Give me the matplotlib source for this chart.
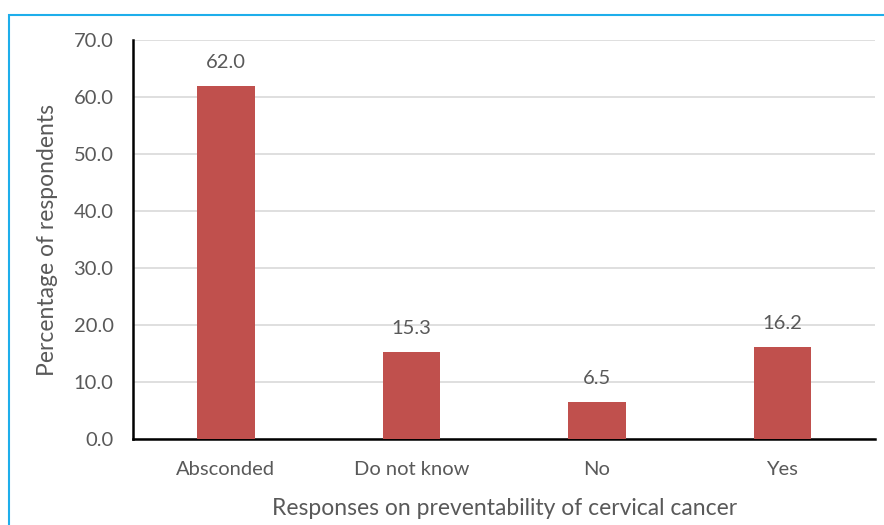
import matplotlib
matplotlib.use("Agg")
import matplotlib.pyplot as plt
from matplotlib.patches import Rectangle

# data
categories = ["Absconded", "Do not know", "No", "Yes"]
values = [62.0, 15.3, 6.5, 16.2]
yticks = [0, 10, 20, 30, 40, 50, 60, 70]

plt.rcParams['font.family'] = ['Lato', 'DejaVu Sans']
grey = '#595959'

fig = plt.figure(figsize=(8.84, 5.25), dpi=100)
ax = fig.add_axes([0.1505, 0.1638, 0.8395, 0.76])

x = range(len(categories))
bars = ax.bar(x, values, width=0.31, color='#C0504D', zorder=3)
for xi, v in zip(x, values):
    ax.text(xi, v + 4.1, f"{v:.1f}", ha='center', va='center', fontsize=14.5, color=grey)

ax.set_xlim(-0.5, 3.5)
ax.set_ylim(0, 70)
ax.set_yticks(yticks)
ax.set_yticklabels([f"{t:.1f}" for t in yticks])
ax.set_xticks(list(x))
ax.set_xticklabels(categories)
ax.tick_params(axis='both', length=0, labelsize=14.5, labelcolor=grey)
ax.tick_params(axis='y', pad=14)
ax.tick_params(axis='x', pad=16)
ax.grid(axis='y', color='#D9D9D9', linewidth=1.2, zorder=0)

for s in ['top', 'right']:
    ax.spines[s].set_visible(False)
for s in ['left', 'bottom']:
    ax.spines[s].set_color('black')
    ax.spines[s].set_linewidth(1.8)

ax.set_xlabel('Responses on preventability of cervical cancer', fontsize=16.5, color=grey, labelpad=14)
ax.set_ylabel('Percentage of respondents', fontsize=16.5, color=grey, labelpad=11)

# light blue frame, cut at right and bottom
fig.patches.append(Rectangle((9/884, -0.1), 1.2, 0.9714 + 0.1, transform=fig.transFigure,
                             fill=False, edgecolor='#1EAEEB', linewidth=1.5))

fig.savefig('out.png', dpi=100)
